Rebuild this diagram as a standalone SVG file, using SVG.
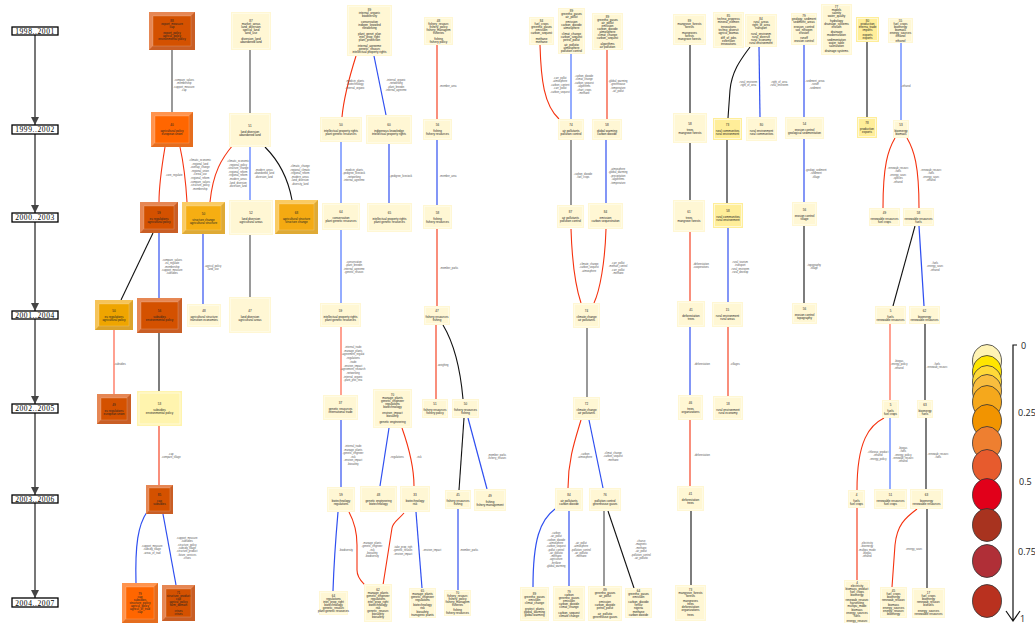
<svg xmlns="http://www.w3.org/2000/svg" width="1035" height="623" viewBox="0 0 1035 623">
<style>
.p{fill:#FFF7D4}.pi{fill:none;stroke:#FFFCEB;stroke-width:.7}.y{fill:#FFEE99}.yb{fill:#FFF4AE}
.bl{fill:#fff;opacity:.2}.bd{fill:#000;opacity:.1}.bi{stroke:#fff;stroke-opacity:.35;stroke-width:.5}
.t{font-family:"Liberation Sans",Arial,sans-serif;font-size:3px;fill:#222;text-anchor:middle}
.l{font-family:"Liberation Sans",Arial,sans-serif;font-size:2.6px;fill:#555;text-anchor:middle}
.tl{font-family:"Liberation Serif","Times New Roman",serif;font-size:7.5px;letter-spacing:.6px;fill:#000;text-anchor:middle}
.lg{font-family:"Open Sans","Liberation Sans",sans-serif;font-size:9px;fill:#222}
#edges path{fill:none}
.tlp{fill:none;stroke:#777;stroke-width:2;marker-end:url(#ar)}
.g{stroke:#808080;stroke-width:1.6}.k{stroke:#111;stroke-width:1.1}.r{stroke:#F5320F;stroke-width:1.1}.s{stroke:#FF6E55;stroke-width:1.3}.b{stroke:#2F4FF0;stroke-width:1.2}.lb{stroke:#7090FF;stroke-width:1.5}
</style>
<defs>
<marker id="ar" viewBox="0 0 6 6" refX="6" refY="3" markerWidth="4" markerHeight="4" orient="auto"><path d="M0,0L6,3L0,6z" fill="#444"/></marker>
</defs>

<g id="timeline">
<path class="tlp" d="M35,35V125"/>
<path class="tlp" d="M35,134V213"/>
<path class="tlp" d="M35,222V311"/>
<path class="tlp" d="M35,319V404"/>
<path class="tlp" d="M35,413V495"/>
<path class="tlp" d="M35,503V598"/>
<g fill="#fff" stroke="#000" stroke-width="1.3">
<rect x="12" y="27" width="46" height="8"/><rect x="12" y="125" width="46" height="9"/><rect x="12" y="213" width="46" height="9"/><rect x="12" y="311" width="46" height="8"/><rect x="12" y="404" width="46" height="9"/><rect x="12" y="495" width="46" height="8"/><rect x="12" y="598" width="46" height="9"/>
</g>
<text class="tl" x="35" y="33.5">1998..2001</text>
<text class="tl" x="35" y="132">1999..2002</text>
<text class="tl" x="35" y="220">2000..2003</text>
<text class="tl" x="35" y="317.5">2001..2004</text>
<text class="tl" x="35" y="411">2002..2005</text>
<text class="tl" x="35" y="501.5">2003..2006</text>
<text class="tl" x="35" y="605.5">2004..2007</text>
</g>

<g id="edges">
<path class="g" d="M172,50V112"/>
<path class="g" d="M250,50V113"/>
<path class="r" d="M165,147C162,165 159,185 159,202"/>
<path class="r" d="M180,147C184,165 186,185 187,202"/>
<path class="r" d="M233,145C222,158 213,172 210,202"/>
<path class="lb" d="M250,147V200"/>
<path class="k" d="M265,147C278,160 288,178 292,200"/>
<path class="k" d="M153,233L121,300"/>
<path class="b" d="M159,233V298"/>
<path class="b" d="M203,234V304"/>
<path class="g" d="M250,235V297"/>
<path class="s" d="M114,330V394"/>
<path class="k" d="M159,333V391"/>
<path class="r" d="M159,426V485"/>
<path class="b" d="M147,512C138,525 135,545 136,583"/>
<path class="b" d="M163,514L176,585"/>

<path class="r" d="M356,56C350,75 344,95 342,117"/>
<path class="b" d="M374,56L386,115"/>
<path class="r" d="M437,45V119"/>
<path class="lb" d="M341,142V203"/>
<path class="b" d="M389,144V203"/>
<path class="b" d="M437,140V205"/>
<path class="lb" d="M341,230V303"/>
<path class="r" d="M437,229V306"/>
<path class="s" d="M341,327V395"/>
<path class="r" d="M436,325V399"/>
<path class="k" d="M443,325C452,340 460,365 463,399"/>
<path class="b" d="M341,420V487"/>
<path class="b" d="M389,428L380,486"/>
<path class="r" d="M402,428C408,445 414,465 414,486"/>
<path class="k" d="M464,418L459,490"/>
<path class="b" d="M468,418L487,489"/>
<path class="b" d="M338,512C336,535 334,560 333,591"/>
<path class="r" d="M349,512C356,525 357,535 357,545V570C357,578 362,582 365,585"/>
<path class="r" d="M404,513C398,520 393,522 392,528L383,585"/>
<path class="b" d="M416,512L422,588"/>
<path class="b" d="M458,509V590"/>

<path class="r" d="M540,45C541,80 544,105 559,119"/>
<path class="lb" d="M571,53V119"/>
<path class="r" d="M607,50V119"/>
<path class="g" d="M571,140V205"/>
<path class="b" d="M606,140V203"/>
<path class="r" d="M571,229C572,260 575,285 581,303"/>
<path class="r" d="M606,229C605,262 600,290 594,303"/>
<path class="g" d="M587,328V397"/>
<path class="r" d="M581,420C575,440 568,460 568,488"/>
<path class="b" d="M589,420L603,488"/>
<path class="b" d="M555,509C540,520 533,540 533,587"/>
<path class="b" d="M569,511V586"/>
<path class="g" d="M604,511V586"/>
<path class="k" d="M608,511L634,588"/>

<path class="k" d="M690,45V113"/>
<path class="k" d="M750,47C742,58 732,70 730,90L728,118"/>
<path class="b" d="M759,47L760,117"/>
<path class="k" d="M690,143V200"/>
<path class="k" d="M727,140V203"/>
<path class="r" d="M690,232V301"/>
<path class="b" d="M728,228V302"/>
<path class="b" d="M690,327V395"/>
<path class="r" d="M728,327V396"/>
<path class="r" d="M690,420V486"/>
<path class="k" d="M691,511V585"/>

<path class="b" d="M804,45V117"/>
<path class="k" d="M867,42V117"/>
<path class="lb" d="M901,43V120"/>
<path class="b" d="M804,139V202"/>
<path class="r" d="M895,138C888,150 883,165 883,208"/>
<path class="r" d="M907,138C914,150 919,165 919,208"/>
<path class="k" d="M804,226V303"/>
<path class="k" d="M915,226L893,306"/>
<path class="b" d="M919,226L924,306"/>
<path class="s" d="M890,324V400"/>
<path class="k" d="M925,324V400"/>
<path class="r" d="M884,418C870,425 857,440 857,490"/>
<path class="lb" d="M890,418V489"/>
<path class="k" d="M926,418V489"/>
<path class="r" d="M857,508V580"/>
<path class="r" d="M917,509C905,518 897,525 895,545L892,587"/>
<path class="k" d="M927,509V588"/>

<g id="edge-labels">
<text class="l" x="184" y="81">-compare_values<tspan x="184" dy="3.3">-membership</tspan><tspan x="184" dy="3.3">-support_measure</tspan><tspan x="184" dy="3.3">-cap</tspan></text>
<text class="l" x="174" y="176">-core_regulate</text>
<text class="l" x="200" y="161">-climatic_economic<tspan x="200" dy="3.6">-regional_land</tspan><tspan x="200" dy="3.6">-overlap_change</tspan><tspan x="200" dy="3.6">-regional_union</tspan><tspan x="200" dy="3.6">-cereal_use</tspan><tspan x="200" dy="3.6">-regional_reform</tspan><tspan x="200" dy="3.6">-compare_values</tspan><tspan x="200" dy="3.6">-structure_policy</tspan><tspan x="200" dy="3.6">-membership</tspan></text>
<text class="l" x="238" y="162">-climatic_economic<tspan x="238" dy="3.6">-regional_policy</tspan><tspan x="238" dy="3.6">-structure_change</tspan><tspan x="238" dy="3.6">-regional_reform</tspan><tspan x="238" dy="3.6">-regional_reform</tspan><tspan x="238" dy="3.6">-modern_areas</tspan><tspan x="238" dy="3.6">-land_diversion</tspan><tspan x="238" dy="3.6">-diversion_land</tspan></text>
<text class="l" x="264" y="171">-modern_areas<tspan x="264" dy="3.3">-abandoned_land</tspan><tspan x="264" dy="3.3">-diversion_land</tspan></text>
<text class="l" x="300" y="167">-climatic_change<tspan x="300" dy="3.6">-regional_climatic</tspan><tspan x="300" dy="3.6">-regional_reform</tspan><tspan x="300" dy="3.6">-modern_areas</tspan><tspan x="300" dy="3.6">-land_diversion</tspan><tspan x="300" dy="3.6">-diversity_land</tspan></text>
<text class="l" x="172" y="261">-compare_values<tspan x="172" dy="3.3">-eu_regulate</tspan><tspan x="172" dy="3.3">-membership</tspan><tspan x="172" dy="3.3">-support_measure</tspan><tspan x="172" dy="3.3">-subsidies</tspan></text>
<text class="l" x="213" y="267">-agricul_policy<tspan x="213" dy="3.3">-land_use</tspan></text>
<text class="l" x="120" y="365">-subsidies</text>
<text class="l" x="171" y="455">-cap<tspan x="171" dy="3.3">-compare_tillage</tspan></text>
<text class="l" x="152" y="547">-support_measure<tspan x="152" dy="3.3">-subsidy_tillage</tspan><tspan x="152" dy="3.3">-areas_of_trad</tspan></text>
<text class="l" x="187" y="539">-support_measure<tspan x="187" dy="3.3">-subsidies</tspan><tspan x="187" dy="3.3">-structure_policy</tspan><tspan x="187" dy="3.3">-subsidy_tillage</tspan><tspan x="187" dy="3.3">-structure_product</tspan><tspan x="187" dy="3.3">-future_services</tspan><tspan x="187" dy="3.3">-crises</tspan></text>

<text class="l" x="355" y="82">-medicin_plants<tspan x="355" dy="3.3">-biotechnology</tspan><tspan x="355" dy="3.3">-internal_organic</tspan></text>
<text class="l" x="396" y="81">-internal_organic<tspan x="396" dy="3.3">-networking</tspan><tspan x="396" dy="3.3">-plant_breedin</tspan><tspan x="396" dy="3.3">-internal_agreeme</tspan></text>
<text class="l" x="448" y="87">-member_area</text>
<text class="l" x="354" y="171">-medicin_plants<tspan x="354" dy="3.3">-pedigree_livestock</tspan><tspan x="354" dy="3.3">-networking</tspan><tspan x="354" dy="3.3">-internal_agreeme</tspan></text>
<text class="l" x="401" y="177">-pedigree_livestock</text>
<text class="l" x="448" y="177">-member_area</text>
<text class="l" x="354" y="263">-conservation<tspan x="354" dy="3.3">-plant_breedin</tspan><tspan x="354" dy="3.3">-internal_agreeme</tspan><tspan x="354" dy="3.3">-genetic_resourc</tspan></text>
<text class="l" x="449" y="269">-member_parks</text>
<text class="l" x="353" y="348">-internal_trade<tspan x="353" dy="3.7">-manage_plants</tspan><tspan x="353" dy="3.7">-agreement_regulat</tspan><tspan x="353" dy="3.7">-regulations</tspan><tspan x="353" dy="3.7">-trade</tspan><tspan x="353" dy="3.7">-environ_impact</tspan><tspan x="353" dy="3.7">-agreement_research</tspan><tspan x="353" dy="3.7">-networking</tspan><tspan x="353" dy="3.7">-internal_organic</tspan><tspan x="353" dy="3.7">-plant_prot_trea</tspan></text>
<text class="l" x="443" y="366">-weighing</text>
<text class="l" x="353" y="447">-internal_trade<tspan x="353" dy="3.5">-manage_plants</tspan><tspan x="353" dy="3.5">-genetic_engineer</tspan><tspan x="353" dy="3.5">-risk</tspan><tspan x="353" dy="3.5">-environ_impact</tspan><tspan x="353" dy="3.5">-biosafety</tspan></text>
<text class="l" x="397" y="458">-regulations</text>
<text class="l" x="419" y="458">-risk</text>
<text class="l" x="497" y="456">-member_parks<tspan x="497" dy="3.3">-fishery_resourc</tspan></text>
<text class="l" x="346" y="551">-biodiversity</text>
<text class="l" x="372" y="544">-manage_plants<tspan x="372" dy="3.3">-genetic_engineer</tspan><tspan x="372" dy="3.3">-risk</tspan><tspan x="372" dy="3.3">-biosafety</tspan><tspan x="372" dy="3.3">-biodiversity</tspan></text>
<text class="l" x="403" y="548">-take_prop_righ<tspan x="403" dy="3.3">-genetic_resourc</tspan><tspan x="403" dy="3.3">-environ_impact</tspan></text>
<text class="l" x="432" y="551">-environ_impact</text>
<text class="l" x="469" y="551">-member_parks</text>

<text class="l" x="560" y="79">-carr_pollut<tspan x="560" dy="3.4">-atmosphere</tspan><tspan x="560" dy="3.4">-carbon_content</tspan><tspan x="560" dy="3.4">-carr_pollut</tspan><tspan x="560" dy="3.4">-carbon_sequest</tspan></text>
<text class="l" x="584" y="77">-carbon_dioxide<tspan x="584" dy="3.4">-climat_change</tspan><tspan x="584" dy="3.4">-carbon_sequest</tspan><tspan x="584" dy="3.4">-algorithms</tspan><tspan x="584" dy="3.4">-chart_crops</tspan><tspan x="584" dy="3.4">-methane</tspan></text>
<text class="l" x="618" y="82">-global_warming<tspan x="618" dy="3.4">-greenhouse</tspan><tspan x="618" dy="3.4">-temperature</tspan><tspan x="618" dy="3.4">-air_pollut</tspan></text>
<text class="l" x="583" y="175">-carbon_dioxide<tspan x="583" dy="3.3">-fuel_crops</tspan></text>
<text class="l" x="618" y="170">-atmosphere<tspan x="618" dy="3.4">-global_warming</tspan><tspan x="618" dy="3.4">-precipitation</tspan><tspan x="618" dy="3.4">-algorithms</tspan><tspan x="618" dy="3.4">-temperature</tspan></text>
<text class="l" x="589" y="265">-climate_change<tspan x="589" dy="3.3">-carbon_sequest</tspan><tspan x="589" dy="3.3">-atmosphere</tspan></text>
<text class="l" x="618" y="264">-carr_pollut<tspan x="618" dy="3.3">-methan_control</tspan><tspan x="618" dy="3.3">-carr_pollut</tspan><tspan x="618" dy="3.3">-methane</tspan></text>
<text class="l" x="585" y="455">-carbon<tspan x="585" dy="3.3">-atmosphere</tspan></text>
<text class="l" x="613" y="454">-climat_change<tspan x="613" dy="3.3">-carbon_sequest</tspan><tspan x="613" dy="3.3">-methane</tspan></text>
<text class="l" x="556" y="534">-carbon<tspan x="556" dy="3.3">-air_pollut</tspan><tspan x="556" dy="3.3">-carbon_dioxide</tspan><tspan x="556" dy="3.3">-atmosphere</tspan><tspan x="556" dy="3.3">-carbon_sequest</tspan><tspan x="556" dy="3.3">-pollut_control</tspan><tspan x="556" dy="3.3">-air_pollutio</tspan><tspan x="556" dy="3.3">-methane</tspan><tspan x="556" dy="3.3">-agriculture</tspan><tspan x="556" dy="3.3">-fertilizer</tspan><tspan x="556" dy="3.3">-global_warming</tspan></text>
<text class="l" x="581" y="544">-air_pollut<tspan x="581" dy="3.3">-atmosphere</tspan><tspan x="581" dy="3.3">-pollution_control</tspan><tspan x="581" dy="3.3">-air_pollutio</tspan><tspan x="581" dy="3.3">-methane</tspan></text>
<text class="l" x="641" y="542">-charse<tspan x="641" dy="3.4">-magnetic</tspan><tspan x="641" dy="3.4">-methane</tspan><tspan x="641" dy="3.4">-air_pollut</tspan><tspan x="641" dy="3.4">-pollution_control</tspan><tspan x="641" dy="3.4">-air_pollutio</tspan></text>

<text class="l" x="748" y="83">-rural_environm<tspan x="748" dy="3.3">-right_of_area</tspan></text>
<text class="l" x="779" y="83">-right_of_area<tspan x="779" dy="3.3">-rural_environm</tspan></text>
<text class="l" x="701" y="265">-deforestation<tspan x="701" dy="3.3">-cooperatives</tspan></text>
<text class="l" x="740" y="263">-rural_tourism<tspan x="740" dy="3.3">-transport</tspan><tspan x="740" dy="3.3">-rural_environm</tspan><tspan x="740" dy="3.3">-rural_develop</tspan></text>
<text class="l" x="702" y="365">-deforestation</text>
<text class="l" x="735" y="365">-villages</text>
<text class="l" x="702" y="456">-deforestation</text>

<text class="l" x="815" y="82">-sediment_areas<tspan x="815" dy="3.3">-runoff</tspan><tspan x="815" dy="3.3">-sediment</tspan></text>
<text class="l" x="906" y="87">-ethanol</text>
<text class="l" x="816" y="171">-geologi_sediment<tspan x="816" dy="3.3">-sediment</tspan><tspan x="816" dy="3.3">-tillage</tspan></text>
<text class="l" x="898" y="169">-renewab_resourc<tspan x="898" dy="3.4">-fuels</tspan><tspan x="898" dy="3.4">-energy_sourc</tspan><tspan x="898" dy="3.4">-species</tspan><tspan x="898" dy="3.4">-ethanol</tspan></text>
<text class="l" x="931" y="171">-renewab_resourc<tspan x="931" dy="3.4">-fuels</tspan><tspan x="931" dy="3.4">-energy_sourc</tspan><tspan x="931" dy="3.4">-ethanol</tspan></text>
<text class="l" x="814" y="266">-topography<tspan x="814" dy="3.3">-tillage</tspan></text>
<text class="l" x="935" y="264">-fuels<tspan x="935" dy="3.3">-energy_sourc</tspan><tspan x="935" dy="3.3">-ethanol</tspan></text>
<text class="l" x="899" y="362">-biogas<tspan x="899" dy="3.3">-energy_policy</tspan><tspan x="899" dy="3.3">-ethanol</tspan></text>
<text class="l" x="937" y="365">-fuels<tspan x="937" dy="3.3">-renewab_resourc</tspan></text>
<text class="l" x="878" y="453">-chloroso_product<tspan x="878" dy="3.3">-ethanol</tspan><tspan x="878" dy="3.3">-energy_policy</tspan></text>
<text class="l" x="903" y="449">-biogas<tspan x="903" dy="3.3">-fuels</tspan><tspan x="903" dy="3.3">-energy_policy</tspan><tspan x="903" dy="3.3">-renewab_resourc</tspan><tspan x="903" dy="3.3">-ethanol</tspan></text>
<text class="l" x="938" y="455">-renewab_resourc<tspan x="938" dy="3.3">-fuels</tspan></text>
<text class="l" x="867" y="544">-electricity<tspan x="867" dy="3.3">-bioenergy</tspan><tspan x="867" dy="3.3">-multipu_mode</tspan><tspan x="867" dy="3.3">-biogas</tspan><tspan x="867" dy="3.3">-ethanol</tspan></text>
<text class="l" x="914" y="550">-energy_sourc</text>
</g>
</g>

<g id="nodes">
<g id="n1"><rect x="149" y="12" width="46" height="38" fill="#E0692A"/><path class="bl" d="M149,12h46l-4,4h-38v30l-4,4z"/><path class="bd" d="M195,12v38h-46l4,-4h38v-30z"/><rect class="bi" x="153" y="16" width="38" height="30" fill="#D45100"/><text class="t" x="172" y="21.5">88<tspan x="172" dy="3">export_measure</tspan><tspan x="172" dy="3">cap</tspan><tspan x="172" dy="6">export_policy</tspan><tspan x="172" dy="3">agricul_policy</tspan><tspan x="172" dy="3">environmental policy</tspan></text></g>
<g id="n2"><rect x="151" y="112" width="42" height="35" fill="#FF7A22"/><path class="bl" d="M151,112h42l-4,4h-34v27l-4,4z"/><path class="bd" d="M193,112v35h-42l4,-4h34v-27z"/><rect class="bi" x="155" y="116" width="34" height="27" fill="#FF6600"/><text class="t" x="172" y="126">40<tspan x="172" dy="6">agricultural policy</tspan><tspan x="172" dy="3">european union</tspan></text></g>
<g id="n3"><rect x="140" y="202" width="38" height="31" fill="#E0692A"/><path class="bl" d="M140,202h38l-4,4h-30v23l-4,4z"/><path class="bd" d="M178,202v31h-38l4,-4h30v-23z"/><rect class="bi" x="144" y="206" width="30" height="23" fill="#D45100"/><text class="t" x="159" y="214">59<tspan x="159" dy="6">eu regulations</tspan><tspan x="159" dy="3">agricultural policy</tspan></text></g>
<g id="n4"><rect x="182" y="202" width="43" height="32" fill="#F9BE3C"/><path class="bl" d="M182,202h43l-4,4h-35v24l-4,4z"/><path class="bd" d="M225,202v32h-43l4,-4h35v-24z"/><rect class="bi" x="186" y="206" width="35" height="24" fill="#F6AE12"/><text class="t" x="203.5" y="214.5">50<tspan x="203.5" dy="6">structure change</tspan><tspan x="203.5" dy="3">agricultural structure</tspan></text></g>
<g id="n5"><rect class="p" x="229" y="200" width="44" height="35"/><rect class="pi" x="230.5" y="201.5" width="41" height="32"/><text class="t" x="251" y="214">52<tspan x="251" dy="6">land diversion</tspan><tspan x="251" dy="3">agricultural areas</tspan></text></g>
<g id="n6"><rect x="275" y="200" width="43" height="34" fill="#F9BE3C"/><path class="bl" d="M275,200h43l-4,4h-35v26l-4,4z"/><path class="bd" d="M318,200v34h-43l4,-4h35v-26z"/><rect class="bi" x="279" y="204" width="35" height="26" fill="#F4AA12"/><text class="t" x="296.5" y="213.5">68<tspan x="296.5" dy="6">agricultural structure</tspan><tspan x="296.5" dy="3">structure change</tspan></text></g>
<g id="p1"><rect class="p" x="231" y="12" width="40" height="38"/><rect class="pi" x="232.5" y="13.5" width="37" height="35"/><text class="t" x="251" y="21.5">87<tspan x="251" dy="3">market_areas</tspan><tspan x="251" dy="3">land_diversion</tspan><tspan x="251" dy="3">special_land</tspan><tspan x="251" dy="3">land_use</tspan><tspan x="251" dy="6">diversion_land</tspan><tspan x="251" dy="3">abandoned land</tspan></text></g>
<g id="p2"><rect class="p" x="229" y="113" width="42" height="34"/><rect class="pi" x="230.5" y="114.5" width="39" height="31"/><text class="t" x="250" y="126.5">51<tspan x="250" dy="6">land diversion</tspan><tspan x="250" dy="3">abandoned land</tspan></text></g>
<g id="n7"><rect x="95" y="300" width="38" height="30" fill="#F4B630"/><path class="bl" d="M95,300h38l-4,4h-30v22l-4,4z"/><path class="bd" d="M133,300v30h-38l4,-4h30v-22z"/><rect class="bi" x="99" y="304" width="30" height="22" fill="#EFA500"/><text class="t" x="114" y="311.5">50<tspan x="114" dy="6">eu regulations</tspan><tspan x="114" dy="3">agricultural policy</tspan></text></g>
<g id="n8"><rect x="137" y="298" width="45" height="35" fill="#E0692A"/><path class="bl" d="M137,298h45l-4,4h-37v27l-4,4z"/><path class="bd" d="M182,298v35h-45l4,-4h37v-27z"/><rect class="bi" x="141" y="302" width="37" height="27" fill="#D45100"/><text class="t" x="159.5" y="312">56<tspan x="159.5" dy="6">subsidies</tspan><tspan x="159.5" dy="3">environmental policy</tspan></text></g>
<g id="n9"><rect class="p" x="187" y="304" width="34" height="23"/><rect class="pi" x="188.5" y="305.5" width="31" height="20"/><text class="t" x="204" y="312">48<tspan x="204" dy="6">agricultural structure</tspan><tspan x="204" dy="3">transition economies</tspan></text></g>
<g id="n10"><rect class="p" x="229" y="297" width="42" height="36"/><rect class="pi" x="230.5" y="298.5" width="39" height="33"/><text class="t" x="250" y="311.5">47<tspan x="250" dy="6">land diversion</tspan><tspan x="250" dy="3">agricultural areas</tspan></text></g>
<g id="n11"><rect x="97" y="394" width="34" height="30" fill="#E0692A"/><path class="bl" d="M97,394h34l-4,4h-26v22l-4,4z"/><path class="bd" d="M131,394v30h-34l4,-4h26v-22z"/><rect class="bi" x="101" y="398" width="26" height="22" fill="#D45100"/><text class="t" x="114" y="405.5">49<tspan x="114" dy="6">eu regulations</tspan><tspan x="114" dy="3">european union</tspan></text></g>
<g id="n12"><rect class="yb" x="137" y="391" width="45" height="35"/><rect class="pi" x="139" y="393" width="41" height="31"/><text class="t" x="159.5" y="405">53<tspan x="159.5" dy="6">subsidies</tspan><tspan x="159.5" dy="3">environmental policy</tspan></text></g>
<g id="n13"><rect x="146" y="485" width="27" height="29" fill="#E0692A"/><path class="bl" d="M146,485h27l-3,3h-21v23l-3,3z"/><path class="bd" d="M173,485v29h-27l3,-3h21v-23z"/><rect class="bi" x="149" y="488" width="21" height="23" fill="#D45100"/><text class="t" x="159.5" y="496">85<tspan x="159.5" dy="6">cap</tspan><tspan x="159.5" dy="3">subsidies</tspan></text></g>
<g id="n14"><rect x="122" y="583" width="36" height="40" fill="#FF7A22"/><path class="bl" d="M122,583h36l-4,4h-28v32l-4,4z"/><path class="bd" d="M158,583v40h-36l4,-4h28v-32z"/><rect class="bi" x="126" y="587" width="28" height="32" fill="#FF6600"/><text class="t" x="140" y="595">79<tspan x="140" dy="3">cap</tspan><tspan x="140" dy="3">subsidies</tspan><tspan x="140" dy="3">structure_policy</tspan><tspan x="140" dy="3">agricul_policy</tspan><tspan x="140" dy="3">agricul_of_trad</tspan><tspan x="140" dy="3">cap</tspan></text></g>
<g id="n15"><rect x="162" y="585" width="33" height="36" fill="#E0692A"/><path class="bl" d="M162,585h33l-4,4h-25v28l-4,4z"/><path class="bd" d="M195,585v36h-33l4,-4h25v-28z"/><rect class="bi" x="166" y="589" width="25" height="28" fill="#D45100"/><text class="t" x="178.5" y="593.5">71<tspan x="178.5" dy="3">structure_product</tspan><tspan x="178.5" dy="3">cap</tspan><tspan x="178.5" dy="3">agricul_policy</tspan><tspan x="178.5" dy="3">farm_domain</tspan><tspan x="178.5" dy="6">crises</tspan><tspan x="178.5" dy="3">crises</tspan></text></g>

<g id="b1"><rect class="p" x="347" y="5" width="45" height="51"/><rect class="pi" x="348.5" y="6.5" width="42" height="48"/><text class="t" x="369.5" y="10.5">89<tspan x="369.5" dy="3">internal_organic</tspan><tspan x="369.5" dy="3">biodiversity</tspan><tspan x="369.5" dy="6">conservation</tspan><tspan x="369.5" dy="3">indigen_knowled</tspan><tspan x="369.5" dy="3">networking</tspan><tspan x="369.5" dy="6">plant_genet_plan</tspan><tspan x="369.5" dy="3">intel_prop_right</tspan><tspan x="369.5" dy="3">plant_protection</tspan><tspan x="369.5" dy="6">internal_agreeme</tspan><tspan x="369.5" dy="3">genetic_resourc</tspan><tspan x="369.5" dy="3">intellectual property rights</tspan></text></g>
<g id="b2"><rect class="p" x="424" y="17" width="29" height="28"/><rect class="pi" x="425.5" y="18.5" width="26" height="25"/><text class="t" x="438.5" y="21.5">48<tspan x="438.5" dy="3">fishery_resourc</tspan><tspan x="438.5" dy="3">fishery_policy</tspan><tspan x="438.5" dy="3">fishery_managem</tspan><tspan x="438.5" dy="3">fisheries</tspan><tspan x="438.5" dy="6">fishing</tspan><tspan x="438.5" dy="3">fishery policy</tspan></text></g>
<g id="b3"><rect class="p" x="320" y="117" width="42" height="25"/><rect class="pi" x="321.5" y="118.5" width="39" height="22"/><text class="t" x="341" y="126">50<tspan x="341" dy="6">intellectual property rights</tspan><tspan x="341" dy="3">plant genetic resources</tspan></text></g>
<g id="b4"><rect class="p" x="366" y="115" width="46" height="29"/><rect class="pi" x="367.5" y="116.5" width="43" height="26"/><text class="t" x="389" y="126">60<tspan x="389" dy="6">indigenous knowledge</tspan><tspan x="389" dy="3">intellectual property rights</tspan></text></g>
<g id="b5"><rect class="p" x="423" y="119" width="29" height="21"/><rect class="pi" x="424.5" y="120.5" width="26" height="18"/><text class="t" x="437.5" y="126">56<tspan x="437.5" dy="6">fishing</tspan><tspan x="437.5" dy="3">fishery resources</tspan></text></g>
<g id="b6"><rect class="p" x="322" y="203" width="38" height="27"/><rect class="pi" x="323.5" y="204.5" width="35" height="24"/><text class="t" x="341" y="213">64<tspan x="341" dy="6">conservation</tspan><tspan x="341" dy="3">plant genetic resources</tspan></text></g>
<g id="b7"><rect class="p" x="367" y="203" width="45" height="29"/><rect class="pi" x="368.5" y="204.5" width="42" height="26"/><text class="t" x="389.5" y="214">65<tspan x="389.5" dy="6">intellectual property rights</tspan><tspan x="389.5" dy="3">plant genetic resources</tspan></text></g>
<g id="b8"><rect class="p" x="423" y="205" width="29" height="24"/><rect class="pi" x="424.5" y="206.5" width="26" height="21"/><text class="t" x="437.5" y="213.5">58<tspan x="437.5" dy="6">fishing</tspan><tspan x="437.5" dy="3">fishery resources</tspan></text></g>
<g id="b9"><rect class="p" x="320" y="303" width="41" height="24"/><rect class="pi" x="321.5" y="304.5" width="38" height="21"/><text class="t" x="340.5" y="311.5">59<tspan x="340.5" dy="6">intellectual property rights</tspan><tspan x="340.5" dy="3">plant genetic resources</tspan></text></g>
<g id="b10"><rect class="p" x="424" y="306" width="26" height="19"/><rect class="pi" x="425.5" y="307.5" width="23" height="16"/><text class="t" x="437" y="312">47<tspan x="437" dy="6">fishery resources</tspan><tspan x="437" dy="3">fishing</tspan></text></g>
<g id="b11"><rect class="p" x="323" y="395" width="35" height="25"/><rect class="pi" x="324.5" y="396.5" width="32" height="22"/><text class="t" x="340.5" y="404">37<tspan x="340.5" dy="6">genetic resources</tspan><tspan x="340.5" dy="3">international trade</tspan></text></g>
<g id="b12"><rect class="p" x="373" y="389" width="39" height="39"/><rect class="pi" x="374.5" y="390.5" width="36" height="36"/><text class="t" x="392.5" y="396">70<tspan x="392.5" dy="3">manage_plants</tspan><tspan x="392.5" dy="3">genetic_engineer</tspan><tspan x="392.5" dy="3">regulations</tspan><tspan x="392.5" dy="3">biotechnology</tspan><tspan x="392.5" dy="6">environ_impact</tspan><tspan x="392.5" dy="3">biosafety</tspan><tspan x="392.5" dy="6">genetic engineering</tspan></text></g>
<g id="b13"><rect class="p" x="422" y="399" width="26" height="19"/><rect class="pi" x="423.5" y="400.5" width="23" height="16"/><text class="t" x="435" y="405">51<tspan x="435" dy="6">fishery resources</tspan><tspan x="435" dy="3">fishery policy</tspan></text></g>
<g id="b14"><rect class="p" x="452" y="399" width="27" height="19"/><rect class="pi" x="453.5" y="400.5" width="24" height="16"/><text class="t" x="465.5" y="405">50<tspan x="465.5" dy="6">fishery resources</tspan><tspan x="465.5" dy="3">fishing</tspan></text></g>
<g id="b15"><rect class="p" x="327" y="487" width="28" height="25"/><rect class="pi" x="328.5" y="488.5" width="25" height="22"/><text class="t" x="341" y="496">59<tspan x="341" dy="6">biotechnology</tspan><tspan x="341" dy="3">regulations</tspan></text></g>
<g id="b16"><rect class="p" x="360" y="486" width="37" height="26"/><rect class="pi" x="361.5" y="487.5" width="34" height="23"/><text class="t" x="378.5" y="495.5">48<tspan x="378.5" dy="6">genetic engineering</tspan><tspan x="378.5" dy="3">biotechnology</tspan></text></g>
<g id="b17"><rect class="p" x="400" y="486" width="30" height="26"/><rect class="pi" x="401.5" y="487.5" width="27" height="23"/><text class="t" x="415" y="495.5">33<tspan x="415" dy="6">biotechnology</tspan><tspan x="415" dy="3">risk</tspan></text></g>
<g id="b18"><rect class="p" x="445" y="490" width="26" height="19"/><rect class="pi" x="446.5" y="491.5" width="23" height="16"/><text class="t" x="458" y="496">45<tspan x="458" dy="6">fishery resources</tspan><tspan x="458" dy="3">fishing</tspan></text></g>
<g id="b19"><rect class="p" x="474" y="489" width="32" height="22"/><rect class="pi" x="475.5" y="490.5" width="29" height="19"/><text class="t" x="490" y="496.5">49<tspan x="490" dy="6">fishing</tspan><tspan x="490" dy="3">fishery management</tspan></text></g>
<g id="b20"><rect class="p" x="319" y="591" width="29" height="24"/><rect class="pi" x="320.5" y="592.5" width="26" height="21"/><text class="t" x="333.5" y="596.5">64<tspan x="333.5" dy="3">regulations</tspan><tspan x="333.5" dy="3">intel_prop_right</tspan><tspan x="333.5" dy="3">biotechnology</tspan><tspan x="333.5" dy="3">genetic_resourc</tspan><tspan x="333.5" dy="3">plant genetic resources</tspan></text></g>
<g id="b21"><rect class="p" x="364" y="584" width="28" height="38"/><rect class="pi" x="365.5" y="585.5" width="25" height="35"/><text class="t" x="378" y="590.5">62<tspan x="378" dy="3">manage_plants</tspan><tspan x="378" dy="3">genetic_engineer</tspan><tspan x="378" dy="3">regulations</tspan><tspan x="378" dy="3">intel_prop_right</tspan><tspan x="378" dy="3">biotechnology</tspan><tspan x="378" dy="3">risk</tspan><tspan x="378" dy="3">genetic_resourc</tspan><tspan x="378" dy="3">biosafety</tspan><tspan x="378" dy="3">biosafety</tspan></text></g>
<g id="b22"><rect class="p" x="409" y="588" width="27" height="30"/><rect class="pi" x="410.5" y="589.5" width="24" height="27"/><text class="t" x="422.5" y="592">65<tspan x="422.5" dy="3">manage_plants</tspan><tspan x="422.5" dy="3">genetic_engineer</tspan><tspan x="422.5" dy="3">regulations</tspan><tspan x="422.5" dy="4.5">biotechnology</tspan><tspan x="422.5" dy="3">risk</tspan><tspan x="422.5" dy="4.5">biosafety</tspan><tspan x="422.5" dy="3">transgenic plants</tspan></text></g>
<g id="b23"><rect class="p" x="444" y="590" width="27" height="26"/><rect class="pi" x="445.5" y="591.5" width="24" height="23"/><text class="t" x="457.5" y="594">70<tspan x="457.5" dy="3">fishery_resourc</tspan><tspan x="457.5" dy="3">fishery_policy</tspan><tspan x="457.5" dy="3">fishery_managem</tspan><tspan x="457.5" dy="3">fisheries</tspan><tspan x="457.5" dy="5">fishing</tspan><tspan x="457.5" dy="3">fishery resources</tspan></text></g>

<g id="c1"><rect class="p" x="529" y="17" width="25" height="28"/><rect class="pi" x="530.5" y="18.5" width="22" height="25"/><text class="t" x="541.5" y="21.5">84<tspan x="541.5" dy="3">fuel_crops</tspan><tspan x="541.5" dy="3">greenho_gases</tspan><tspan x="541.5" dy="3">emission</tspan><tspan x="541.5" dy="3">carbon_sequest</tspan><tspan x="541.5" dy="6">methane</tspan><tspan x="541.5" dy="3">methane</tspan></text></g>
<g id="c2"><rect class="p" x="558" y="8" width="27" height="46"/><rect class="pi" x="559.5" y="9.5" width="24" height="43"/><text class="t" x="571.5" y="11.5">89<tspan x="571.5" dy="3">greenho_gases</tspan><tspan x="571.5" dy="3">air_pollut</tspan><tspan x="571.5" dy="5.5">emission</tspan><tspan x="571.5" dy="3">carbon_dioxide</tspan><tspan x="571.5" dy="3">atmosphere</tspan><tspan x="571.5" dy="5.5">climat_change</tspan><tspan x="571.5" dy="3">carbon_sequest</tspan><tspan x="571.5" dy="3">petrol_pollut</tspan><tspan x="571.5" dy="5.5">air_pollutio</tspan><tspan x="571.5" dy="3">atmosphere</tspan><tspan x="571.5" dy="3">pollution control</tspan></text></g>
<g id="c3"><rect class="p" x="592" y="13" width="31" height="37"/><rect class="pi" x="593.5" y="14.5" width="28" height="34"/><text class="t" x="607.5" y="17.5">89<tspan x="607.5" dy="3">greenho_gases</tspan><tspan x="607.5" dy="3">air_pollut</tspan><tspan x="607.5" dy="3">emission</tspan><tspan x="607.5" dy="3">carbon_dioxide</tspan><tspan x="607.5" dy="3">atmosphere</tspan><tspan x="607.5" dy="3">climat_change</tspan><tspan x="607.5" dy="3">carbon_sequest</tspan><tspan x="607.5" dy="6">algorithms</tspan><tspan x="607.5" dy="3">air pollution</tspan></text></g>
<g id="c4"><rect class="p" x="558" y="119" width="26" height="21"/><rect class="pi" x="559.5" y="120.5" width="23" height="18"/><text class="t" x="571" y="126">74<tspan x="571" dy="6">air pollutants</tspan><tspan x="571" dy="3">pollution control</tspan></text></g>
<g id="c5"><rect class="p" x="592" y="119" width="30" height="21"/><rect class="pi" x="593.5" y="120.5" width="27" height="18"/><text class="t" x="607" y="126">58<tspan x="607" dy="6">global warming</tspan><tspan x="607" dy="3">carbon dioxide</tspan></text></g>
<g id="c6"><rect class="p" x="557" y="205" width="27" height="23"/><rect class="pi" x="558.5" y="206.5" width="24" height="20"/><text class="t" x="570.5" y="213">87<tspan x="570.5" dy="6">air pollutants</tspan><tspan x="570.5" dy="3">pollution control</tspan></text></g>
<g id="c7"><rect class="p" x="588" y="203" width="35" height="26"/><rect class="pi" x="589.5" y="204.5" width="32" height="23"/><text class="t" x="605.5" y="212.5">84<tspan x="605.5" dy="6">emission</tspan><tspan x="605.5" dy="3">carbon sequestration</tspan></text></g>
<g id="c8"><rect class="p" x="573" y="303" width="27" height="25"/><rect class="pi" x="574.5" y="304.5" width="24" height="22"/><text class="t" x="586.5" y="312">74<tspan x="586.5" dy="6">climate change</tspan><tspan x="586.5" dy="3">air pollutants</tspan></text></g>
<g id="c9"><rect class="p" x="573" y="397" width="27" height="23"/><rect class="pi" x="574.5" y="398.5" width="24" height="20"/><text class="t" x="586.5" y="405">72<tspan x="586.5" dy="6">climate change</tspan><tspan x="586.5" dy="3">air pollutants</tspan></text></g>
<g id="c10"><rect class="p" x="555" y="488" width="28" height="23"/><rect class="pi" x="556.5" y="489.5" width="25" height="20"/><text class="t" x="569" y="496">84<tspan x="569" dy="6">air pollutants</tspan><tspan x="569" dy="3">carbon dioxide</tspan></text></g>
<g id="c11"><rect class="p" x="589" y="488" width="32" height="23"/><rect class="pi" x="590.5" y="489.5" width="29" height="20"/><text class="t" x="605" y="496">76<tspan x="605" dy="6">pollution control</tspan><tspan x="605" dy="3">greenhouse gases</tspan></text></g>
<g id="c12"><rect class="p" x="520" y="587" width="29" height="34"/><rect class="pi" x="521.5" y="588.5" width="26" height="31"/><text class="t" x="534.5" y="594.5">89<tspan x="534.5" dy="3">greenho_gases</tspan><tspan x="534.5" dy="3">emission</tspan><tspan x="534.5" dy="3">climat_change</tspan><tspan x="534.5" dy="6">protect_plants</tspan><tspan x="534.5" dy="3">global_warming</tspan><tspan x="534.5" dy="3">global warming</tspan></text></g>
<g id="c13"><rect class="p" x="553" y="586" width="32" height="35"/><rect class="pi" x="554.5" y="587.5" width="29" height="32"/><text class="t" x="569" y="592.5">79<tspan x="569" dy="3">carbon</tspan><tspan x="569" dy="3">greenho_gases</tspan><tspan x="569" dy="3">emission</tspan><tspan x="569" dy="3">carbon_dioxide</tspan><tspan x="569" dy="3">climat_change</tspan><tspan x="569" dy="6">carbon_sequest</tspan><tspan x="569" dy="3">climate change</tspan></text></g>
<g id="c14"><rect class="p" x="588" y="586" width="34" height="35"/><rect class="pi" x="589.5" y="587.5" width="31" height="32"/><text class="t" x="605" y="591">89<tspan x="605" dy="3">greenho_gases</tspan><tspan x="605" dy="3">air_pollut</tspan><tspan x="605" dy="6">emission</tspan><tspan x="605" dy="3">carbon_dioxide</tspan><tspan x="605" dy="3">petrol_pollut</tspan><tspan x="605" dy="6">air_pollutio</tspan><tspan x="605" dy="3">greenhouse gases</tspan></text></g>
<g id="c15"><rect class="p" x="625" y="588" width="27" height="30"/><rect class="pi" x="626.5" y="589.5" width="24" height="27"/><text class="t" x="638.5" y="592">64<tspan x="638.5" dy="3">greenho_gases</tspan><tspan x="638.5" dy="3">emission</tspan><tspan x="638.5" dy="4.5">carbon_dioxide</tspan><tspan x="638.5" dy="3">fertiliz</tspan><tspan x="638.5" dy="3">nigeria</tspan><tspan x="638.5" dy="4.5">methane</tspan><tspan x="638.5" dy="3">carbon dioxide</tspan></text></g>

<g id="d1"><rect class="p" x="673" y="14" width="33" height="31"/><rect class="pi" x="674.5" y="15.5" width="30" height="28"/><text class="t" x="689.5" y="21.5">89<tspan x="689.5" dy="3">mangrove_forests</tspan><tspan x="689.5" dy="3">forests</tspan><tspan x="689.5" dy="6">mangroves</tspan><tspan x="689.5" dy="3">forests</tspan><tspan x="689.5" dy="3">mangrove forests</tspan></text></g>
<g id="d2"><rect class="p" x="713" y="12" width="31" height="36"/><rect class="pi" x="714.5" y="13.5" width="28" height="33"/><text class="t" x="728.5" y="16.5">85<tspan x="728.5" dy="3">techno_progress</tspan><tspan x="728.5" dy="3">mineral_elemen</tspan><tspan x="728.5" dy="5">innovations</tspan><tspan x="728.5" dy="3">techno_diversit</tspan><tspan x="728.5" dy="3">agricul_biomas</tspan><tspan x="728.5" dy="5">diff_of_jobs</tspan><tspan x="728.5" dy="3">extension</tspan><tspan x="728.5" dy="3">innovations</tspan></text></g>
<g id="d3"><rect class="p" x="745" y="14" width="32" height="33"/><rect class="pi" x="746.5" y="15.5" width="29" height="30"/><text class="t" x="761" y="19.5">84<tspan x="761" dy="3">rural_areas</tspan><tspan x="761" dy="3">right_of_area</tspan><tspan x="761" dy="3">transport</tspan><tspan x="761" dy="6">rural_environm</tspan><tspan x="761" dy="3">rural_diversifi</tspan><tspan x="761" dy="3">rural_economy</tspan><tspan x="761" dy="3">rural environment</tspan></text></g>
<g id="d4"><rect class="p" x="673" y="113" width="34" height="30"/><rect class="pi" x="674.5" y="114.5" width="31" height="27"/><text class="t" x="690" y="124.5">58<tspan x="690" dy="6">trees</tspan><tspan x="690" dy="3">mangrove forests</tspan></text></g>
<g id="d5"><rect class="y" x="713" y="118" width="29" height="22"/><rect class="pi" x="714.5" y="119.5" width="26" height="19"/><text class="t" x="727.5" y="125.5">73<tspan x="727.5" dy="6">rural communities</tspan><tspan x="727.5" dy="3">rural environment</tspan></text></g>
<g id="d6"><rect class="p" x="746" y="117" width="31" height="24"/><rect class="pi" x="747.5" y="118.5" width="28" height="21"/><text class="t" x="761.5" y="125.5">80<tspan x="761.5" dy="6">rural environment</tspan><tspan x="761.5" dy="3">rural communities</tspan></text></g>
<g id="d7"><rect class="p" x="673" y="200" width="32" height="32"/><rect class="pi" x="674.5" y="201.5" width="29" height="29"/><text class="t" x="689" y="212.5">61<tspan x="689" dy="6">trees</tspan><tspan x="689" dy="3">mangrove forests</tspan></text></g>
<g id="d8"><rect class="y" x="713" y="203" width="30" height="25"/><rect class="pi" x="714.5" y="204.5" width="27" height="22"/><text class="t" x="728" y="212">58<tspan x="728" dy="6">rural communities</tspan><tspan x="728" dy="3">rural environment</tspan></text></g>
<g id="d9"><rect class="p" x="677" y="301" width="28" height="26"/><rect class="pi" x="678.5" y="302.5" width="25" height="23"/><text class="t" x="691" y="310.5">41<tspan x="691" dy="6">deforestation</tspan><tspan x="691" dy="3">trees</tspan></text></g>
<g id="d10"><rect class="p" x="712" y="302" width="31" height="25"/><rect class="pi" x="713.5" y="303.5" width="28" height="22"/><text class="t" x="727.5" y="311">15<tspan x="727.5" dy="6">rural environment</tspan><tspan x="727.5" dy="3">rural areas</tspan></text></g>
<g id="d11"><rect class="p" x="678" y="395" width="25" height="25"/><rect class="pi" x="679.5" y="396.5" width="22" height="22"/><text class="t" x="690.5" y="404">46<tspan x="690.5" dy="6">trees</tspan><tspan x="690.5" dy="3">organizations</tspan></text></g>
<g id="d12"><rect class="p" x="713" y="396" width="30" height="24"/><rect class="pi" x="714.5" y="397.5" width="27" height="21"/><text class="t" x="728" y="404.5">18<tspan x="728" dy="6">rural environment</tspan><tspan x="728" dy="3">rural economy</tspan></text></g>
<g id="d13"><rect class="p" x="677" y="486" width="27" height="25"/><rect class="pi" x="678.5" y="487.5" width="24" height="22"/><text class="t" x="690.5" y="495">41<tspan x="690.5" dy="6">deforestation</tspan><tspan x="690.5" dy="3">trees</tspan></text></g>
<g id="d14"><rect class="p" x="675" y="585" width="31" height="36"/><rect class="pi" x="676.5" y="586.5" width="28" height="33"/><text class="t" x="690.5" y="591">73<tspan x="690.5" dy="3">mangrove_forests</tspan><tspan x="690.5" dy="3">forests</tspan><tspan x="690.5" dy="5">mangroves</tspan><tspan x="690.5" dy="3">trees</tspan><tspan x="690.5" dy="3">deforestation</tspan><tspan x="690.5" dy="3">organizations</tspan><tspan x="690.5" dy="5">trees</tspan></text></g>

<g id="e1"><rect class="p" x="791" y="13" width="26" height="32"/><rect class="pi" x="792.5" y="14.5" width="23" height="29"/><text class="t" x="804" y="17">79<tspan x="804" dy="3">geology_sediment</tspan><tspan x="804" dy="3">sediment_areas</tspan><tspan x="804" dy="5">erosion_control</tspan><tspan x="804" dy="3">soil_nitrogen</tspan><tspan x="804" dy="3">erosion</tspan><tspan x="804" dy="5">runoff</tspan><tspan x="804" dy="3">erosion control</tspan></text></g>
<g id="e2"><rect class="p" x="821" y="4" width="31" height="51"/><rect class="pi" x="822.5" y="5.5" width="28" height="48"/><text class="t" x="836.5" y="8">77<tspan x="836.5" dy="3">models</tspan><tspan x="836.5" dy="3">salinity</tspan><tspan x="836.5" dy="3">water_quality</tspan><tspan x="836.5" dy="5">hydrology</tspan><tspan x="836.5" dy="3">drainage_systems</tspan><tspan x="836.5" dy="3">erosion</tspan><tspan x="836.5" dy="5">drainage</tspan><tspan x="836.5" dy="3">modernization</tspan><tspan x="836.5" dy="5">sedimentation</tspan><tspan x="836.5" dy="3">water_table</tspan><tspan x="836.5" dy="3">salinization</tspan><tspan x="836.5" dy="5">drainage systems</tspan></text></g>
<g id="e3"><rect class="y" x="856" y="17" width="23" height="25"/><rect class="pi" x="857.5" y="18.5" width="20" height="22"/><text class="t" x="867.5" y="21.5">80<tspan x="867.5" dy="3">production</tspan><tspan x="867.5" dy="3">interna_trade</tspan><tspan x="867.5" dy="3">imports</tspan><tspan x="867.5" dy="5">exports</tspan><tspan x="867.5" dy="3">exports</tspan></text></g>
<g id="e4"><rect class="p" x="888" y="18" width="25" height="25"/><rect class="pi" x="889.5" y="19.5" width="22" height="22"/><text class="t" x="900.5" y="21.5">55<tspan x="900.5" dy="3">fuel_crops</tspan><tspan x="900.5" dy="3">bioenergy</tspan><tspan x="900.5" dy="3">biomass</tspan><tspan x="900.5" dy="3">energy_sources</tspan><tspan x="900.5" dy="3">ethanol</tspan><tspan x="900.5" dy="5">ethanol</tspan></text></g>
<g id="e5"><rect class="p" x="785" y="117" width="39" height="22"/><rect class="pi" x="786.5" y="118.5" width="36" height="19"/><text class="t" x="804.5" y="124.5">54<tspan x="804.5" dy="6">erosion control</tspan><tspan x="804.5" dy="3">geological sedimentation</tspan></text></g>
<g id="e6"><rect class="y" x="857" y="117" width="20" height="21"/><rect class="pi" x="858.5" y="118.5" width="17" height="18"/><text class="t" x="867" y="124">78<tspan x="867" dy="6">production</tspan><tspan x="867" dy="3">exports</tspan></text></g>
<g id="e7"><rect class="p" x="893" y="120" width="16" height="18"/><rect class="pi" x="894.5" y="121.5" width="13" height="15"/><text class="t" x="901" y="125.5">53<tspan x="901" dy="6">bioenergy</tspan><tspan x="901" dy="3">biomass</tspan></text></g>
<g id="e8"><rect class="p" x="792" y="202" width="25" height="24"/><rect class="pi" x="793.5" y="203.5" width="22" height="21"/><text class="t" x="804.5" y="210.5">56<tspan x="804.5" dy="6">erosion control</tspan><tspan x="804.5" dy="3">tillage</tspan></text></g>
<g id="e9"><rect class="p" x="869" y="208" width="31" height="18"/><rect class="pi" x="870.5" y="209.5" width="28" height="15"/><text class="t" x="884.5" y="213.5">49<tspan x="884.5" dy="6">renewable resources</tspan><tspan x="884.5" dy="3">fuel crops</tspan></text></g>
<g id="e10"><rect class="p" x="903" y="208" width="31" height="18"/><rect class="pi" x="904.5" y="209.5" width="28" height="15"/><text class="t" x="918.5" y="213.5">58<tspan x="918.5" dy="6">renewable resources</tspan><tspan x="918.5" dy="3">fuels</tspan></text></g>
<g id="e11"><rect class="p" x="792" y="303" width="25" height="21"/><rect class="pi" x="793.5" y="304.5" width="22" height="18"/><text class="t" x="804.5" y="310">56<tspan x="804.5" dy="6">erosion control</tspan><tspan x="804.5" dy="3">topography</tspan></text></g>
<g id="e12"><rect class="p" x="875" y="306" width="31" height="18"/><rect class="pi" x="876.5" y="307.5" width="28" height="15"/><text class="t" x="890.5" y="311.5">5<tspan x="890.5" dy="6">fuels</tspan><tspan x="890.5" dy="3">renewable resources</tspan></text></g>
<g id="e13"><rect class="p" x="909" y="306" width="31" height="18"/><rect class="pi" x="910.5" y="307.5" width="28" height="15"/><text class="t" x="924.5" y="311.5">62<tspan x="924.5" dy="6">bioenergy</tspan><tspan x="924.5" dy="3">renewable resources</tspan></text></g>
<g id="e14"><rect class="p" x="882" y="400" width="17" height="18"/><rect class="pi" x="883.5" y="401.5" width="14" height="15"/><text class="t" x="890.5" y="405.5">5<tspan x="890.5" dy="6">fuels</tspan><tspan x="890.5" dy="3">fuel crops</tspan></text></g>
<g id="e15"><rect class="p" x="917" y="400" width="16" height="18"/><rect class="pi" x="918.5" y="401.5" width="13" height="15"/><text class="t" x="925" y="405.5">63<tspan x="925" dy="6">bioenergy</tspan><tspan x="925" dy="3">fuels</tspan></text></g>
<g id="e16"><rect class="p" x="848" y="490" width="17" height="18"/><rect class="pi" x="849.5" y="491.5" width="14" height="15"/><text class="t" x="856.5" y="495.5">4<tspan x="856.5" dy="6">fuels</tspan><tspan x="856.5" dy="3">fuel crops</tspan></text></g>
<g id="e17"><rect class="p" x="874" y="489" width="33" height="20"/><rect class="pi" x="875.5" y="490.5" width="30" height="17"/><text class="t" x="890.5" y="495.5">51<tspan x="890.5" dy="6">renewable resources</tspan><tspan x="890.5" dy="3">fuel crops</tspan></text></g>
<g id="e18"><rect class="p" x="910" y="489" width="33" height="20"/><rect class="pi" x="911.5" y="490.5" width="30" height="17"/><text class="t" x="926.5" y="495.5">63<tspan x="926.5" dy="6">bioenergy</tspan><tspan x="926.5" dy="3">renewable resources</tspan></text></g>
<g id="e19"><rect class="p" x="844" y="580" width="26" height="43"/><rect class="pi" x="845.5" y="581.5" width="23" height="41"/><text class="t" x="857" y="584">4<tspan x="857" dy="3">electricity</tspan><tspan x="857" dy="3">biomass_product</tspan><tspan x="857" dy="3">fuel_crops</tspan><tspan x="857" dy="3">bioenergy</tspan><tspan x="857" dy="4.5">renewab_resourc</tspan><tspan x="857" dy="3">harvesting</tspan><tspan x="857" dy="3">multipu_mode</tspan><tspan x="857" dy="4.5">biomass</tspan><tspan x="857" dy="3">energy_sources</tspan><tspan x="857" dy="3">fuels</tspan><tspan x="857" dy="4.5">energy_resourc</tspan></text></g>
<g id="e20"><rect class="p" x="880" y="587" width="27" height="31"/><rect class="pi" x="881.5" y="588.5" width="24" height="28"/><text class="t" x="893.5" y="592">45<tspan x="893.5" dy="3">fuel_crops</tspan><tspan x="893.5" dy="3">bioenergy</tspan><tspan x="893.5" dy="3">renewab_resourc</tspan><tspan x="893.5" dy="5">biomass</tspan><tspan x="893.5" dy="3">energy_sources</tspan><tspan x="893.5" dy="3">energy_resourc</tspan><tspan x="893.5" dy="3">bioenergy</tspan></text></g>
<g id="e21"><rect class="p" x="912" y="588" width="33" height="30"/><rect class="pi" x="913.5" y="589.5" width="30" height="27"/><text class="t" x="928.5" y="593.5">17<tspan x="928.5" dy="3">fuel_crops</tspan><tspan x="928.5" dy="3">bioenergy</tspan><tspan x="928.5" dy="3">renewab_resourc</tspan><tspan x="928.5" dy="3">biofuels</tspan><tspan x="928.5" dy="6">energy_sources</tspan><tspan x="928.5" dy="3">renewable resources</tspan></text></g>
</g>

<g id="legend" stroke="#333" stroke-width=".8">
<ellipse cx="987" cy="361" rx="14.5" ry="16.5" fill="#FFF3B5"/>
<ellipse cx="987" cy="372" rx="14.5" ry="16.5" fill="#FFE500"/>
<ellipse cx="987" cy="382" rx="14.5" ry="16.5" fill="#FFD938"/>
<ellipse cx="987" cy="391" rx="14.5" ry="16.5" fill="#F9BD3E"/>
<ellipse cx="987" cy="402" rx="14.5" ry="16.5" fill="#F5A81C"/>
<ellipse cx="987" cy="421" rx="14.5" ry="16.5" fill="#F29400"/>
<ellipse cx="987" cy="443" rx="14.5" ry="16.5" fill="#EE7F30"/>
<ellipse cx="987" cy="466" rx="14.5" ry="16.5" fill="#E75B2D"/>
<ellipse cx="987" cy="495" rx="14.5" ry="16.5" fill="#E1001A"/>
<ellipse cx="987" cy="525" rx="14.5" ry="16.5" fill="#A8331F"/>
<ellipse cx="987" cy="561" rx="14.5" ry="16.5" fill="#B02F37"/>
<ellipse cx="987" cy="601" rx="14.5" ry="16.5" fill="#B9311F"/>
<path d="M1017,345H1013V621M1006,611L1013,621L1020,611" fill="none" stroke="#111" stroke-width="1.2"/>
</g>
<g id="legend-labels">
<text class="lg" x="1021" y="349">0</text>
<text class="lg" x="1018" y="416">0.25</text>
<text class="lg" x="1019" y="485">0.5</text>
<text class="lg" x="1018" y="555">0.75</text>
<text class="lg" x="1020" y="622">1</text>
</g>
</svg>
